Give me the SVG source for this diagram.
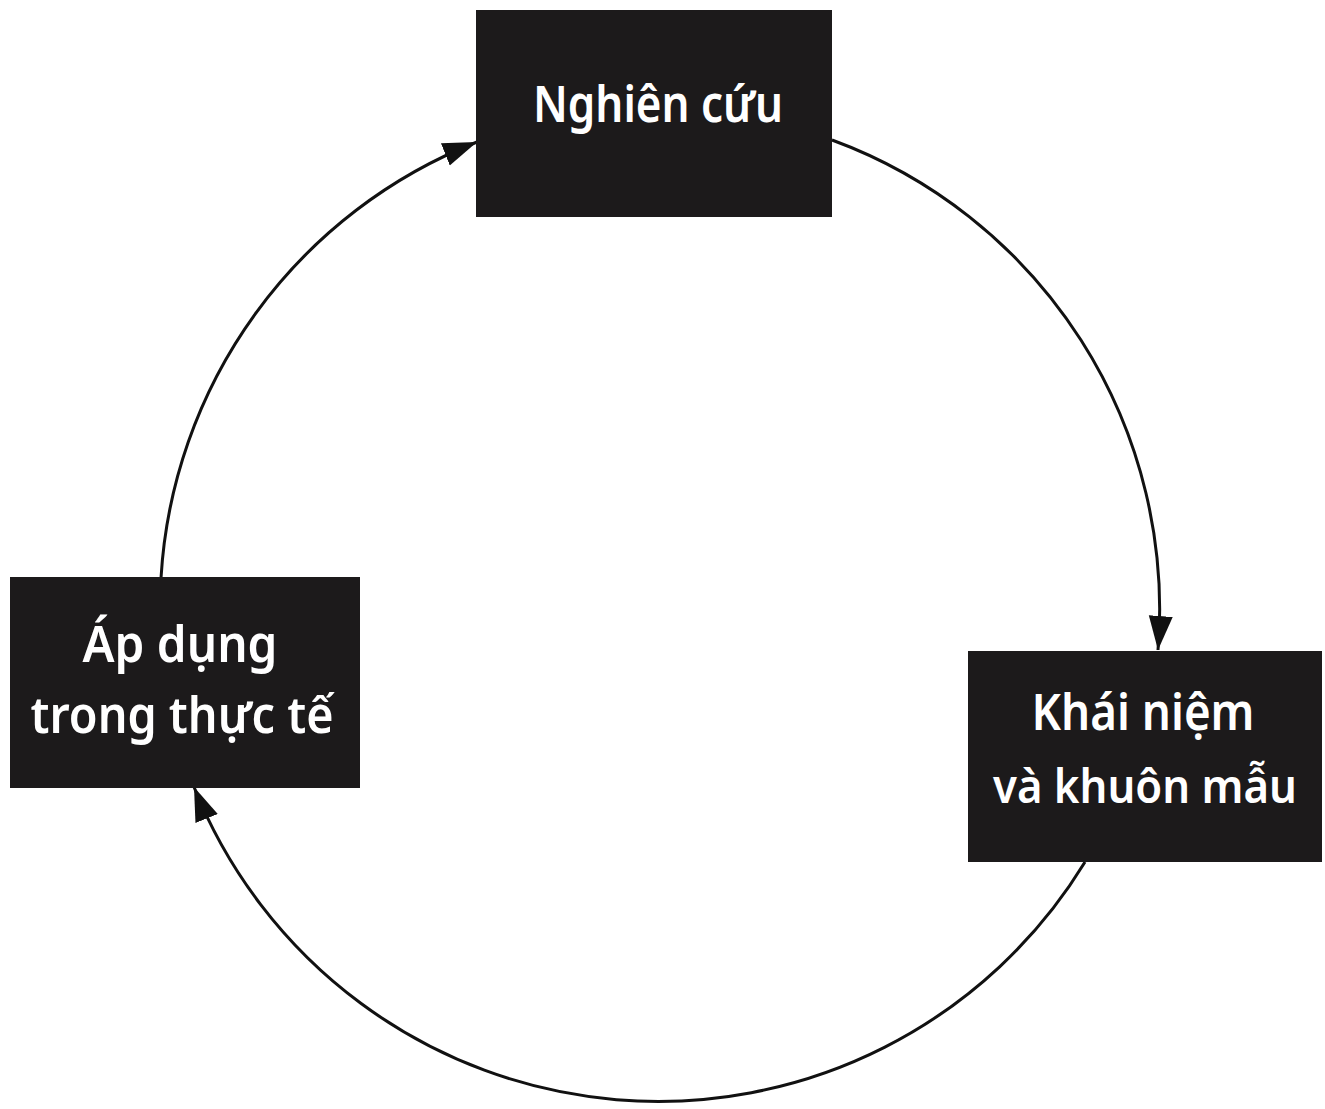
<svg xmlns="http://www.w3.org/2000/svg" width="1325" height="1109" viewBox="0 0 1325 1109">
<defs>
<style>
.box{fill:#1c1a1b;}
.lbl{fill:#ffffff;font-family:"Noto Sans","DejaVu Sans",sans-serif;font-size:50px;font-weight:600;text-anchor:middle;}
.sm{font-size:46px;}
.conn{fill:none;stroke:#111;stroke-width:3;}
</style>
<marker id="ah" markerUnits="userSpaceOnUse" markerWidth="36" markerHeight="28" refX="34" refY="13" orient="auto" viewBox="0 0 36 26">
<path d="M0,1 L34,13 L0,25 Z" fill="#111"/>
</marker>
</defs>
<rect width="1325" height="1109" fill="#ffffff"/>
<g id="connectors">
<path class="conn" d="M 832 140 A 500 500 0 0 1 1158 650" marker-end="url(#ah)"/>
<path class="conn" d="M 1085 862 A 500 500 0 0 1 194 787" marker-end="url(#ah)"/>
<path class="conn" d="M 161 578 A 500 500 0 0 1 477 142" marker-end="url(#ah)"/>
</g>
<g id="node-research">
<rect class="box" x="476" y="10" width="356" height="207"/>
<text class="lbl" x="658" y="122" textLength="250" lengthAdjust="spacingAndGlyphs">Nghiên cứu</text>
</g>
<g id="node-concepts">
<rect class="box" x="968" y="651" width="354" height="211"/>
<text class="lbl" x="1143" y="730" textLength="223" lengthAdjust="spacingAndGlyphs">Khái niệm</text>
<text class="lbl sm" x="1145" y="803" textLength="304" lengthAdjust="spacingAndGlyphs">và khuôn mẫu</text>
</g>
<g id="node-apply">
<rect class="box" x="10" y="577" width="350" height="211"/>
<text class="lbl" x="180" y="662" textLength="195" lengthAdjust="spacingAndGlyphs">Áp dụng</text>
<text class="lbl" x="182" y="733" textLength="303" lengthAdjust="spacingAndGlyphs">trong thực tế</text>
</g>
</svg>
